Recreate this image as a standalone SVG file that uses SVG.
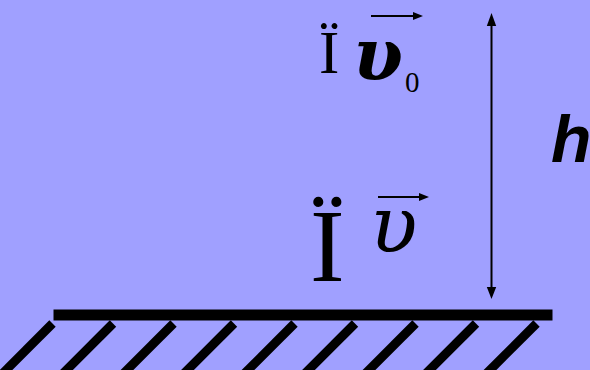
<svg xmlns="http://www.w3.org/2000/svg" width="590" height="370" viewBox="0 0 590 370">
<defs>
<style>
.serif{font-family:"Liberation Serif","Times New Roman",serif;fill:#000}
.greek{font-family:"DejaVu Serif",serif;font-style:italic;fill:#000}
.ln{stroke:#000;fill:none}
.hatch{stroke:#000;stroke-width:9;stroke-linecap:butt}
</style>
</defs>
<rect x="0" y="0" width="590" height="370" fill="#a0a0ff"/>
<g id="ground">
<rect x="53.5" y="309.5" width="499" height="11" fill="#000"/>
<g class="hatch">
<path d="M52.5 323.5 l-50 50"/>
<path d="M113 323.5 l-50 50"/>
<path d="M173.5 323.5 l-50 50"/>
<path d="M234 323.5 l-50 50"/>
<path d="M294.5 323.5 l-50 50"/>
<path d="M355 323.5 l-50 50"/>
<path d="M415.5 323.5 l-50 50"/>
<path d="M476 323.5 l-50 50"/>
<path d="M536.5 323.5 l-50 50"/>
</g>
</g>
<g id="label-top">
<text class="serif" x="319" y="72.5" font-size="61">Ï</text>
<text class="greek" x="353" y="80" font-size="72" font-weight="bold">υ</text>
<text class="serif" x="405" y="92" font-size="29">0</text>
<line class="ln" x1="371" y1="16" x2="414" y2="16" stroke-width="2"/>
<polygon points="423,16 413,12 413,20" fill="#000"/>
</g>
<g id="label-bottom">
<text class="serif" x="310" y="281" font-size="104">Ï</text>
<text class="greek" x="370" y="252" font-size="78">υ</text>
<line class="ln" x1="378" y1="197" x2="420" y2="197" stroke-width="2"/>
<polygon points="429,197 419,193 419,201" fill="#000"/>
</g>
<g id="connectors">
<line class="ln" x1="491.5" y1="24" x2="491.5" y2="289" stroke-width="2"/>
<polygon points="491.5,13 486.8,26 496.2,26" fill="#000"/>
<polygon points="491.5,299 486.8,287 496.2,287" fill="#000"/>
</g>
<g id="label-h">
<text x="551" y="162" font-family="'Liberation Sans',Arial,sans-serif" font-size="66" font-weight="bold" font-style="italic">h</text>
</g>
</svg>
